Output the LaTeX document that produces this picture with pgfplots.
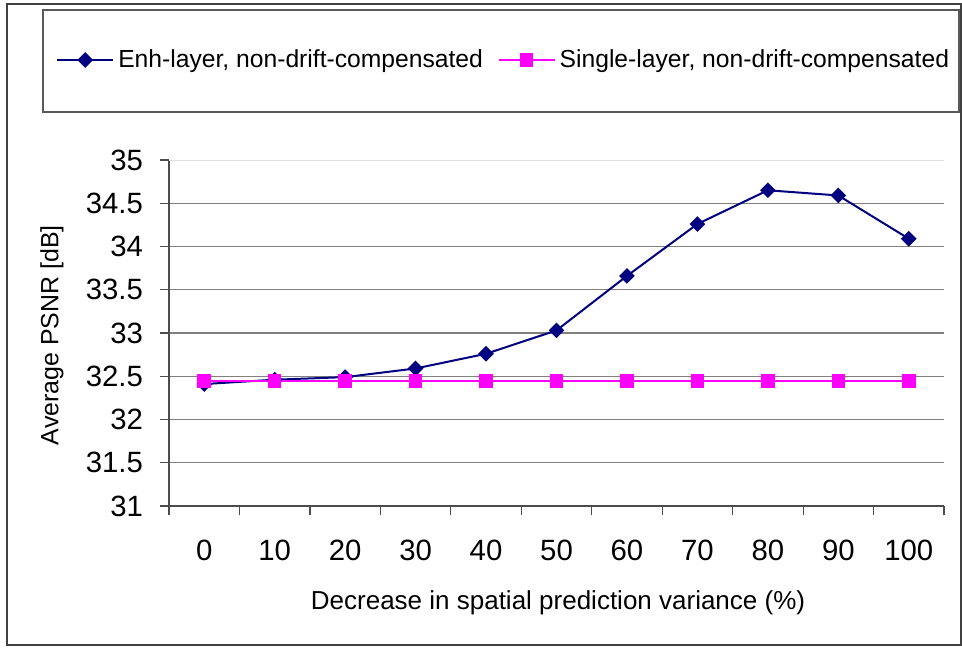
\documentclass[border=0pt]{standalone}
\usepackage{fontspec}
\setmainfont{Liberation Sans}
\usepackage{pgfplots}
\pgfplotsset{compat=1.18}
\definecolor{enh}{HTML}{000080}
\definecolor{sng}{HTML}{FF00FF}
\definecolor{gridc}{HTML}{808080}
\begin{document}
\begin{tikzpicture}[x=0.75pt,y=0.75pt]
% pixel (px,py) -> ((px-169), (506-py)) in 0.75pt units
\useasboundingbox (-169,-141) rectangle (793,506);
\draw[line width=1.2pt, black!75] (-162,-139) rectangle (792,502);
\draw[line width=0.9pt, black!65] (-126,394) rectangle (790,496);
\begin{axis}[
  at={(0,0)}, anchor=south west,
  scale only axis,
  width=581.25pt, height=259.5pt,
  xmin=-0.5, xmax=10.5,
  ymin=31, ymax=35,
  axis x line*=bottom, axis y line*=left,
  axis line style={-, line width=0.9pt, black!70},
  xtick={0,...,10},
  xticklabels={0,10,20,30,40,50,60,70,80,90,100},
  minor xtick={-0.5,0.5,...,10.5},
  ytick={31,31.5,...,34.5},
  extra y ticks={35},
  extra y tick style={major grid style={line width=0.6pt, black!12}},
  yticklabel style={/pgf/number format/fixed, xshift=-9pt},
  /pgf/number format/assume math mode=true,
  tick align=outside,
  major tick length=7pt,
  minor tick length=7pt,
  x tick style={draw=none},
  minor x tick style={draw=black!70, line width=0.9pt},
  y tick style={draw=black!70, line width=0.9pt},
  ymajorgrids,
  major grid style={line width=1.1pt, gridc},
  tick label style={font=\fontsize{22}{26}\selectfont},
  xticklabel style={yshift=-15pt},
  xlabel={Decrease in spatial prediction variance (\%)},
  ylabel={Average PSNR [dB]},
  xlabel style={font=\fontsize{19.5}{23}\selectfont, at={(0.502,-0.280)}, anchor=center},
  ylabel style={font=\fontsize{18.7}{22}\selectfont, at={(-0.151,0.494)}, anchor=center},
  legend columns=2,
  legend style={at={(-0.1458,1.289)}, anchor=west, draw=none, fill=none,
    inner sep=0pt, font=\fontsize{18.5}{22}\selectfont,
    nodes={inner sep=3pt},
    /tikz/every even column/.append style={column sep=8pt}},
  legend image code/.code={\draw[mark repeat=2,mark phase=2] plot coordinates {(0pt,0pt) (21pt,0pt) (42pt,0pt)};},
  clip=false,
]
\addplot[color=enh, line width=1.5pt, mark=square*, mark size=3.4pt, mark options={rotate=45, fill=enh, draw=enh}]
  coordinates {(0,32.41) (1,32.46) (2,32.49) (3,32.59) (4,32.76) (5,33.03) (6,33.66) (7,34.26) (8,34.65) (9,34.59) (10,34.09)};
\addlegendentry{Enh-layer, non-drift-compensated}
\addplot[color=sng, line width=1.5pt, mark=square*, mark size=4.3pt, mark options={fill=sng, draw=sng}]
  coordinates {(0,32.445) (1,32.445) (2,32.445) (3,32.445) (4,32.445) (5,32.445) (6,32.445) (7,32.445) (8,32.445) (9,32.445) (10,32.445)};
\addlegendentry{Single-layer, non-drift-compensated}
\end{axis}
\end{tikzpicture}
\end{document}
